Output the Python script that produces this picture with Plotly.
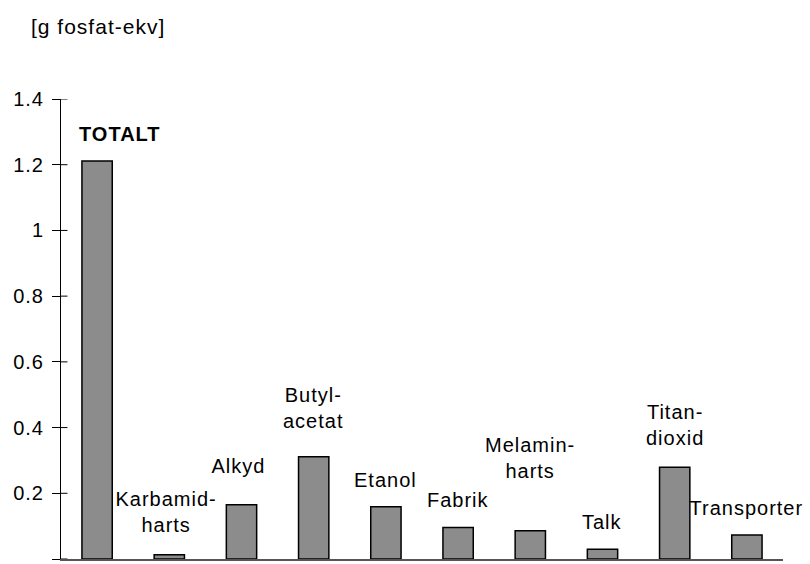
import plotly.graph_objects as go

# Data
categories = ['TOTALT', 'Karbamid-harts', 'Alkyd', 'Butyl-acetat', 'Etanol',
              'Fabrik', 'Melamin-harts', 'Talk', 'Titan-dioxid', 'Transporter']
values = [1.211, 0.013, 0.165, 0.311, 0.159, 0.096, 0.086, 0.030, 0.279, 0.073]
bar_labels = ['<b>TOTALT</b>', 'Karbamid-<br>harts', 'Alkyd', 'Butyl-<br>acetat', 'Etanol',
              'Fabrik', 'Melamin-<br>harts', 'Talk', 'Titan-<br>dioxid', 'Transporter']
# height (in axis units) where each label is centred
label_y = [1.293, 0.143, 0.284, 0.46, 0.240, 0.180, 0.307, 0.114, 0.408, 0.155]
label_dx = [23, -3, -3, 0, 0, 0, 0, 0, 0, 0]

y_ticks = [0, 0.2, 0.4, 0.6, 0.8, 1, 1.2, 1.4]
y_tick_text = ['0', '0.2', '0.4', '0.6', '0.8', '1', '1.2', '1.4']

FONT = 'Liberation Sans, Arial, sans-serif'

fig = go.Figure()

fig.add_trace(go.Bar(
    x=categories,
    y=values,
    marker=dict(color='#8c8c8c', line=dict(color='black', width=1.5)),
    width=0.42,
    showlegend=False,
    hoverinfo='x+y'
))

# Labels above the bars
for cat, txt, ly, dx in zip(categories, bar_labels, label_y, label_dx):
    fig.add_annotation(
        x=cat, y=ly, text=txt, showarrow=False, xshift=dx,
        xanchor='center', yanchor='middle',
        font=dict(family=FONT, size=20, color='black')
    )

# Unit label in the top left corner
fig.add_annotation(
    text='[g fosfat-ekv]', xref='paper', yref='paper',
    x=-0.035, y=1.157, xanchor='left', yanchor='middle', showarrow=False,
    font=dict(family=FONT, size=21, color='black')
)

# inner half of the cross-shaped y ticks
for t in y_ticks:
    fig.add_shape(type='line', xref='paper', yref='y', x0=0, x1=0.009, y0=t, y1=t,
                  line=dict(color='black', width=1))

fig.update_layout(
    width=810,
    height=564,
    margin=dict(l=61, r=27, t=99, b=5),
    plot_bgcolor='white',
    paper_bgcolor='white',
    font=dict(family=FONT, size=20, color='black'),
    xaxis=dict(
        range=[-0.5, len(categories) - 0.5],
        showticklabels=False,
        ticks='',
        showgrid=False,
        showline=True,
        linecolor='#555555',
        linewidth=1.5,
        zeroline=False
    ),
    yaxis=dict(
        range=[0, 1.4],
        tickvals=y_ticks,
        ticktext=y_tick_text,
        ticks='outside',
        ticklen=8,
        tickcolor='black',
        tickwidth=1,
        ticklabelstandoff=4,
        showgrid=False,
        showline=True,
        linecolor='black',
        linewidth=1,
        zeroline=False,
        tickfont=dict(family=FONT, size=20, color='black')
    )
)

# drop the default body margin so the 810x564 figure fills the window,
# and widen the letter spacing a little like the original Excel text
post = """
document.body.style.margin = '0';
var st = document.createElement('style');
st.innerHTML = '.js-plotly-plot text { letter-spacing: 1px; }';
document.head.appendChild(st);
"""

fig.write_html("out.html", post_script=post, config={'displayModeBar': False})
